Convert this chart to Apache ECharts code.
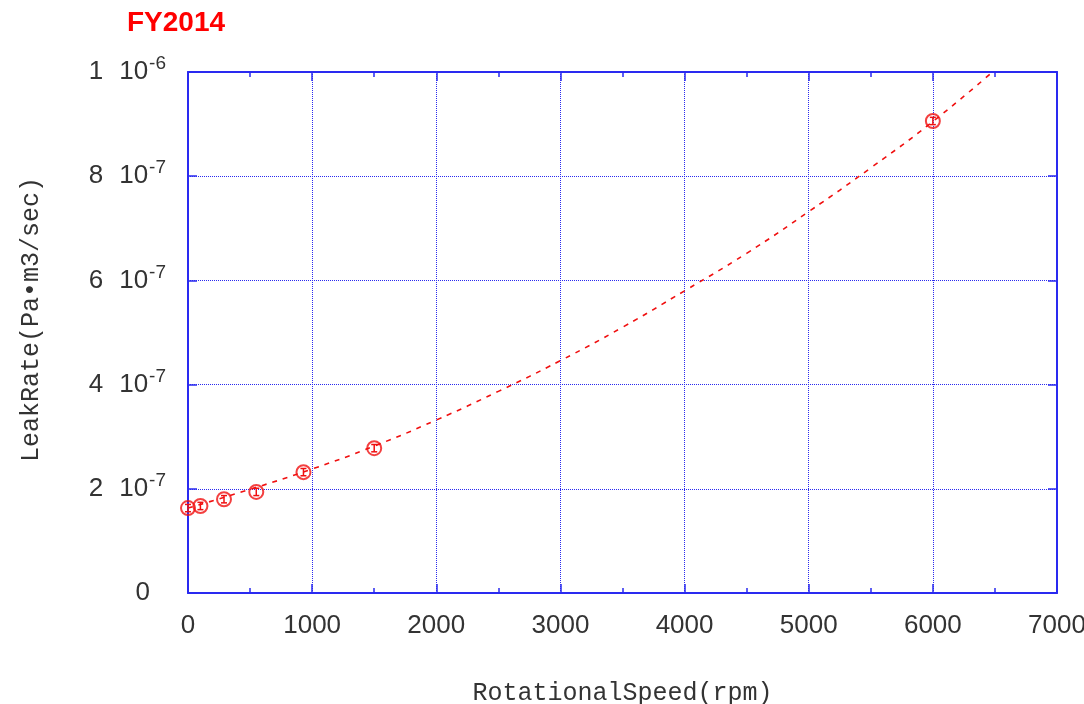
<!doctype html>
<html lang="en">

<head>
    <meta charset="utf-8">
    <title>FY2014 Leak Rate</title>
    <script src="https://cdn.jsdelivr.net/npm/echarts@6/dist/echarts.min.js"></script>
    <style>
        html, body { margin: 0; padding: 0; background: #fff; }
        #chart { width: 1084px; height: 704px; }
    </style>
</head>

<body>
    <div id="chart"></div>
    <script type="text/javascript">
        // measured points (leak rate in units of 1e-7 Pa·m3/sec)
        var speeds = [0, 100, 290, 550, 930, 1500, 6000];
        var leakRates = [1.63, 1.67, 1.80, 1.94, 2.32, 2.78, 9.06];
        var leakErrors = [0.07, 0.07, 0.07, 0.07, 0.07, 0.07, 0.07];
        // fitted trend line
        var fitSpeeds = [0, 500, 1000, 1500, 2000, 2500, 3000, 3500, 4000, 4500, 5000, 5500, 6000, 6480];
        var fitRates = [1.63, 1.99, 2.38, 2.82, 3.32, 3.87, 4.46, 5.10, 5.80, 6.52, 7.32, 8.16, 9.05, 10.0];
        var xTicks = [0, 1000, 2000, 3000, 4000, 5000, 6000, 7000];

        var blue = '#2a2af0';
        var red = '#f01010';
        var labelFont = 'Liberation Sans';
        var textColor = '#333';

        var chart = echarts.init(document.getElementById('chart'));

        var option = {
            animation: false,
            title: {
                text: 'FY2014',
                left: 122,
                top: 4,
                textStyle: {
                    color: '#ff0000',
                    fontFamily: 'Liberation Sans',
                    fontWeight: 'bold',
                    fontSize: 28
                }
            },
            grid: {
                left: 188,
                right: 27,
                top: 72,
                bottom: 111,
                containLabel: false,
                outerBoundsMode: 'none'
            },
            xAxis: [{
                type: 'value',
                min: 0,
                max: 7000,
                interval: 1000,
                name: 'RotationalSpeed(rpm)',
                nameLocation: 'middle',
                nameGap: 88,
                nameTextStyle: {
                    fontFamily: 'Liberation Mono',
                    fontSize: 25,
                    color: textColor
                },
                axisLine: { show: true, onZero: false, lineStyle: { color: blue, width: 2 } },
                axisTick: { show: true, inside: true, length: 9, lineStyle: { color: blue, width: 1.5 } },
                minorTick: { show: true, splitNumber: 2, length: 5, lineStyle: { color: blue, width: 1.5 } },
                splitLine: { show: true, lineStyle: { color: blue, type: 'dotted', width: 1 } },
                axisLabel: {
                    margin: 20,
                    fontFamily: labelFont,
                    fontSize: 26,
                    color: textColor,
                    formatter: function (v) {
                        return xTicks.indexOf(v) >= 0 ? String(v) : '';
                    }
                }
            }, {
                type: 'value',
                position: 'top',
                min: 0,
                max: 7000,
                interval: 1000,
                axisLine: { show: true, onZero: false, lineStyle: { color: blue, width: 2 } },
                axisTick: { show: true, inside: true, length: 9, lineStyle: { color: blue, width: 1.5 } },
                minorTick: { show: true, splitNumber: 2, length: 5, lineStyle: { color: blue, width: 1.5 } },
                splitLine: { show: false },
                axisLabel: { show: false }
            }],
            yAxis: [{
                type: 'value',
                min: 0,
                max: 10,
                interval: 2,
                name: 'LeakRate(Pa\u2022m3/sec)',
                nameLocation: 'middle',
                nameGap: 144,
                nameRotate: 90,
                nameTextStyle: {
                    fontFamily: 'Liberation Mono',
                    fontSize: 25,
                    color: textColor,
                    padding: [0, 0, 0, 26]
                },
                axisLine: { show: true, onZero: false, lineStyle: { color: blue, width: 2 } },
                axisTick: { show: true, inside: true, length: 9, lineStyle: { color: blue, width: 1.5 } },
                splitLine: { show: true, lineStyle: { color: blue, type: 'dotted', width: 1 } },
                axisLabel: {
                    margin: 22,
                    fontFamily: labelFont,
                    fontSize: 26,
                    color: textColor,
                    formatter: function (v) {
                        var k = Math.round(v);
                        if (k === 0) return '{n|0}';
                        if (k === 10) return '{n|1}{b|10}{s|-6}';
                        return '{n|' + k + '}{b|10}{s|-7}';
                    },
                    rich: {
                        n: { fontFamily: labelFont, fontSize: 26, color: textColor, padding: [0, 16, 0, 0] },
                        b: { fontFamily: labelFont, fontSize: 26, color: textColor },
                        s: { fontFamily: labelFont, fontSize: 19, color: textColor, padding: [0, 0, 16, 1] }
                    }
                }
            }, {
                type: 'value',
                position: 'right',
                min: 0,
                max: 10,
                interval: 2,
                axisLine: { show: true, onZero: false, lineStyle: { color: blue, width: 2 } },
                axisTick: { show: true, inside: true, length: 9, lineStyle: { color: blue, width: 1.5 } },
                splitLine: { show: false },
                axisLabel: { show: false }
            }],
            series: [{
                name: 'fit',
                type: 'line',
                data: fitSpeeds.map(function (s, i) { return [s, fitRates[i]]; }),
                smooth: true,
                showSymbol: false,
                symbol: 'none',
                lineStyle: { color: red, width: 1.6, type: [5, 6] },
                z: 3
            }, {
                name: 'measured',
                type: 'scatter',
                data: speeds.map(function (s, i) { return [s, leakRates[i]]; }),
                symbol: 'circle',
                symbolSize: 14,
                itemStyle: { color: 'rgba(255,255,255,0)', borderColor: red, borderWidth: 2 },
                z: 5
            }, {
                name: 'error',
                type: 'custom',
                data: speeds.map(function (s, i) { return [s, leakRates[i] - leakErrors[i], leakRates[i] + leakErrors[i]]; }),
                renderItem: function (params, api) {
                    var lo = api.coord([api.value(0), api.value(1)]);
                    var hi = api.coord([api.value(0), api.value(2)]);
                    var w = 3;
                    var st = { stroke: red, lineWidth: 1.5 };
                    return {
                        type: 'group',
                        children: [
                            { type: 'line', shape: { x1: lo[0], y1: lo[1], x2: hi[0], y2: hi[1] }, style: st },
                            { type: 'line', shape: { x1: lo[0] - w, y1: lo[1], x2: lo[0] + w, y2: lo[1] }, style: st },
                            { type: 'line', shape: { x1: hi[0] - w, y1: hi[1], x2: hi[0] + w, y2: hi[1] }, style: st }
                        ]
                    };
                },
                z: 6
            }]
        };
        chart.setOption(option);
    </script>
</body>

</html>
